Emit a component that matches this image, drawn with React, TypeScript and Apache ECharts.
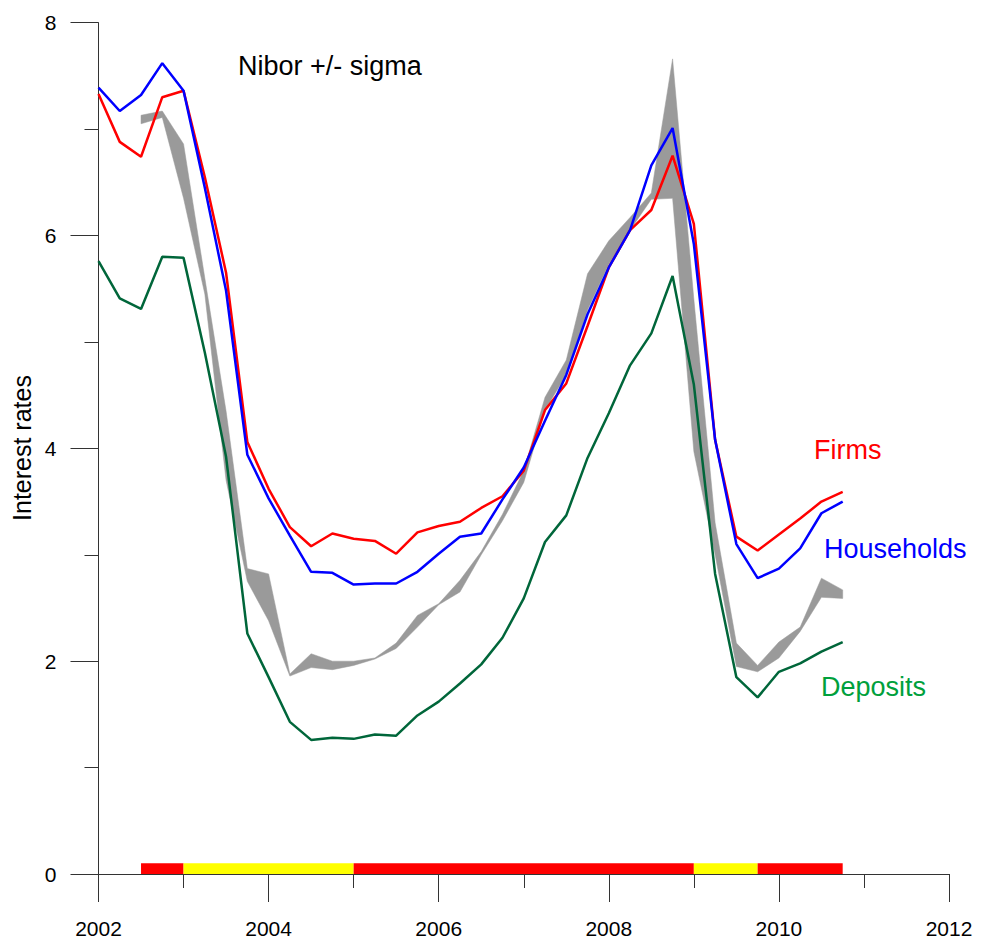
import React, { useEffect, useRef } from "react";
import * as echarts from "echarts";

// Quarterly observation dates
const quarters = [
  2002, 2002.25, 2002.5, 2002.75,
  2003, 2003.25, 2003.5, 2003.75,
  2004, 2004.25, 2004.5, 2004.75,
  2005, 2005.25, 2005.5, 2005.75,
  2006, 2006.25, 2006.5, 2006.75,
  2007, 2007.25, 2007.5, 2007.75,
  2008, 2008.25, 2008.5, 2008.75,
  2009, 2009.25, 2009.5, 2009.75,
  2010, 2010.25, 2010.5, 2010.75,
];

const firms = [
  7.33, 6.88, 6.74, 7.30,
  7.36, 6.55, 5.65, 4.06,
  3.62, 3.26, 3.08, 3.20,
  3.15, 3.13, 3.01, 3.21,
  3.27, 3.31, 3.44, 3.55,
  3.79, 4.36, 4.61, 5.15,
  5.70, 6.05, 6.24, 6.75,
  6.11, 4.08, 3.17, 3.04,
  3.19, 3.34, 3.50, 3.59,
];

const households = [
  7.39, 7.17, 7.32, 7.62,
  7.36, 6.45, 5.48, 3.94,
  3.53, 3.18, 2.84, 2.83,
  2.72, 2.73, 2.73, 2.84,
  3.01, 3.17, 3.20, 3.52,
  3.82, 4.26, 4.69, 5.26,
  5.70, 6.05, 6.66, 7.01,
  5.92, 4.08, 3.10, 2.78,
  2.87, 3.06, 3.39, 3.50,
];

const deposits = [
  5.76, 5.41, 5.31, 5.80,
  5.79, 4.90, 3.92, 2.26,
  1.85, 1.43, 1.26, 1.28,
  1.27, 1.31, 1.30, 1.49,
  1.62, 1.79, 1.97, 2.22,
  2.59, 3.12, 3.37, 3.91,
  4.33, 4.78, 5.08, 5.62,
  4.60, 2.82, 1.85, 1.66,
  1.90, 1.98, 2.09, 2.18,
];

// Nibor +/- sigma band (from 2002Q3)
const bandQuarters = [
  2002.5, 2002.75,
  2003, 2003.25, 2003.5, 2003.75,
  2004, 2004.25, 2004.5, 2004.75,
  2005, 2005.25, 2005.5, 2005.75,
  2006, 2006.25, 2006.5, 2006.75,
  2007, 2007.25, 2007.5, 2007.75,
  2008, 2008.25, 2008.5, 2008.75,
  2009, 2009.25, 2009.5, 2009.75,
  2010, 2010.25, 2010.5, 2010.75,
];
const niborUpper = [
  7.13, 7.17,
  6.86, 5.60, 4.35, 2.87,
  2.82, 1.88, 2.07, 2.00,
  2.00, 2.03, 2.17, 2.43,
  2.54, 2.76, 3.03, 3.38,
  3.79, 4.48, 4.83, 5.64,
  5.95, 6.17, 6.40, 7.66,
  5.40, 3.30, 2.17, 1.96,
  2.18, 2.32, 2.78, 2.67,
];
const niborLower = [
  7.05, 7.11,
  6.35, 5.45, 3.70, 2.75,
  2.38, 1.86, 1.94, 1.92,
  1.96, 2.02, 2.12, 2.32,
  2.53, 2.65, 3.00, 3.32,
  3.68, 4.36, 4.69, 5.30,
  5.73, 6.05, 6.34, 6.35,
  3.97, 3.00, 1.95, 1.90,
  2.03, 2.28, 2.60, 2.59,
];

// Regime bar along the x axis
const regimeStarts = [2002.5, 2003, 2005, 2009, 2009.75];
const regimeEnds = [2003, 2005, 2009, 2009.75, 2010.75];
const regimeColors = ["#ff0000", "#ffff00", "#ff0000", "#ffff00", "#ff0000"];
const regimeBarHeight = 0.1;

const FONT = "'Liberation Sans', Arial, Helvetica, sans-serif";

function textEl(text: string, x: number, y: number, size: number, fill: string, extra: any = {}) {
  return {
    type: "text",
    x,
    y,
    ...extra,
    style: {
      text,
      fill,
      font: `${size}px ${FONT}`,
      align: extra.align || "left",
      verticalAlign: "middle",
      textAlign: extra.align || "left",
      textVerticalAlign: "middle",
    },
  };
}

export default function App() {
  const ref = useRef<HTMLDivElement>(null);

  useEffect(() => {
    if (!ref.current) return;
    const chart = echarts.init(ref.current, undefined, { renderer: "svg" });

    const bandData = bandQuarters.map((x, i) => [x, niborUpper[i], niborLower[i]]);

    const option: any = {
      animation: false,
      backgroundColor: "#ffffff",
      grid: { left: 98.5, right: 32, top: 22.7, bottom: 71, containLabel: false },
      xAxis: {
        type: "value",
        min: 2002,
        max: 2012,
        interval: 2,
        axisLine: { show: true, onZero: false, lineStyle: { color: "#333", width: 1 } },
        axisTick: { show: true, length: 28, lineStyle: { color: "#333", width: 1 } },
        minorTick: { show: true, splitNumber: 2, length: 14, lineStyle: { color: "#333", width: 1 } },
        splitLine: { show: false },
        minorSplitLine: { show: false },
        axisLabel: {
          margin: 44,
          color: "#000",
          fontSize: 21,
          fontFamily: FONT,
          formatter: (v: number) => String(v),
        },
      },
      yAxis: {
        type: "value",
        min: 0,
        max: 8,
        interval: 2,
        axisLine: { show: true, lineStyle: { color: "#333", width: 1 } },
        axisTick: { show: true, length: 28, lineStyle: { color: "#333", width: 1 } },
        minorTick: { show: true, splitNumber: 2, length: 14, lineStyle: { color: "#333", width: 1 } },
        splitLine: { show: false },
        minorSplitLine: { show: false },
        axisLabel: { margin: 42, color: "#000", fontSize: 21, fontFamily: FONT },
      },
      graphic: [
        textEl("Interest rates", 22, 448, 25, "#000", { rotation: Math.PI / 2, align: "center" }),
        textEl("Nibor +/- sigma", 238, 66, 27, "#000"),
        textEl("Firms", 814, 450, 27, "#ff0000"),
        textEl("Households", 824, 549, 27, "#0000ff"),
        textEl("Deposits", 821, 687, 27, "#00a03c"),
      ],
      series: [
        {
          name: "Nibor +/- sigma",
          type: "custom",
          data: bandData,
          encode: { x: 0, y: [1, 2] },
          renderItem: (params: any, api: any) => {
            if (params.dataIndex !== 0) return { type: "group", children: [] };
            const upper = bandData.map((d) => api.coord([d[0], d[1]]));
            const lower = bandData.map((d) => api.coord([d[0], d[2]])).reverse();
            return {
              type: "polygon",
              shape: { points: upper.concat(lower) },
              style: { fill: "#9a9a9a", stroke: "#9a9a9a", lineWidth: 0.5 },
            };
          },
          z: 1,
          silent: true,
        },
        {
          name: "regime",
          type: "custom",
          data: regimeStarts.map((s, i) => [s, regimeEnds[i], i]),
          encode: { x: [0, 1] },
          renderItem: (params: any, api: any) => {
            const p0 = api.coord([api.value(0), regimeBarHeight]);
            const p1 = api.coord([api.value(1), 0]);
            return {
              type: "rect",
              shape: { x: p0[0], y: p0[1], width: p1[0] - p0[0], height: p1[1] - p0[1] },
              style: { fill: regimeColors[params.dataIndex] },
            };
          },
          z: 2,
          silent: true,
        },
        {
          name: "Deposits",
          type: "line",
          data: quarters.map((x, i) => [x, deposits[i]]),
          showSymbol: false,
          symbol: "none",
          lineStyle: { color: "#00663a", width: 2.5 },
          z: 3,
        },
        {
          name: "Firms",
          type: "line",
          data: quarters.map((x, i) => [x, firms[i]]),
          showSymbol: false,
          symbol: "none",
          lineStyle: { color: "#ff0000", width: 2.5 },
          z: 4,
        },
        {
          name: "Households",
          type: "line",
          data: quarters.map((x, i) => [x, households[i]]),
          showSymbol: false,
          symbol: "none",
          lineStyle: { color: "#0000ff", width: 2.5 },
          z: 5,
        },
      ],
    };

    chart.setOption(option);
    return () => chart.dispose();
  }, []);

  return (
    <div
      ref={ref}
      style={{ position: "absolute", left: 0, top: 0, width: 981, height: 945, background: "#fff" }}
    />
  );
}
